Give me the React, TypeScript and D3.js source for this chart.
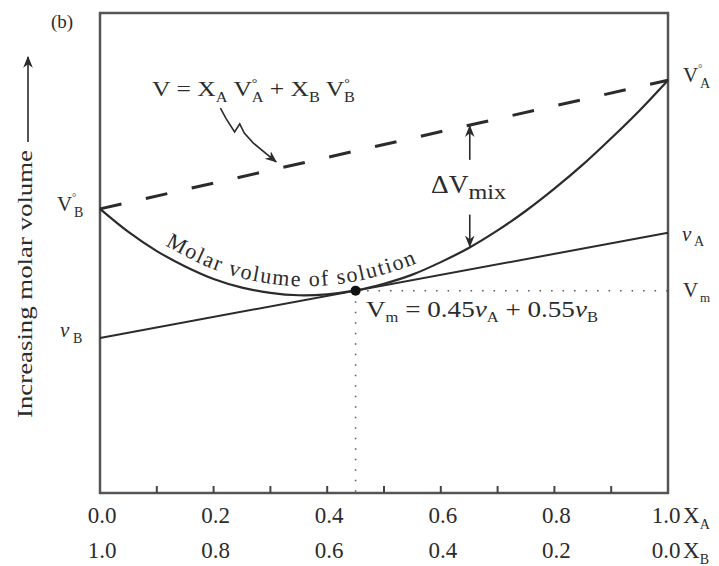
import React from "react";
import * as d3 from "d3";

// mole fraction of A along the bottom axis
const xaLabels = ["0.0", "0.2", "0.4", "0.6", "0.8", "1.0"];
const xbLabels = ["1.0", "0.8", "0.6", "0.4", "0.2", "0.0"];
const labelTicks = [0, 0.2, 0.4, 0.6, 0.8, 1.0];
const minorTicks = [0.1, 0.2, 0.3, 0.4, 0.5, 0.6, 0.7, 0.8, 0.9];

// molar volume of solution (arbitrary units)
const molarX = [0, 0.05, 0.1, 0.15, 0.2, 0.25, 0.3, 0.35, 0.4, 0.45, 0.5, 0.55, 0.6, 0.65, 0.7, 0.75, 0.8, 0.85, 0.9, 0.95, 1.0];
const molarV = [5.92, 5.44, 5.04, 4.72, 4.46, 4.28, 4.17, 4.12, 4.14, 4.22, 4.36, 4.55, 4.81, 5.11, 5.47, 5.88, 6.34, 6.84, 7.39, 7.97, 8.6];

// ideal mixing line (pure molar volumes) and tangent line (partial molar volumes)
const endX = [0, 1];
const idealV = [5.92, 8.6];
const partialV = [3.23, 5.42];

const xm = 0.45;
const vm = 4.216;
const mixX = 0.651;

const W = 719;
const H = 566;
const FONT = "'Liberation Serif', 'Times New Roman', serif";
const INK = "#2b2b2b";

export default function App() {
  const x = d3.scaleLinear().domain([0, 1]).range([100, 668]);
  const y = d3.scaleLinear().domain([0, 10]).range([493, 13]);

  const line = d3
    .line<[number, number]>()
    .x((d) => x(d[0]))
    .y((d) => y(d[1]));
  const smooth = d3
    .line<[number, number]>()
    .x((d) => x(d[0]))
    .y((d) => y(d[1]))
    .curve(d3.curveCatmullRom);

  const molarPts = molarX.map((v, i) => [v, molarV[i]] as [number, number]);
  const idealPts = endX.map((v, i) => [v, idealV[i]] as [number, number]);
  const partialPts = endX.map((v, i) => [v, partialV[i]] as [number, number]);

  // path for the curve label, shifted off the curve along its normal
  const px = molarPts.map((d) => [x(d[0]), y(d[1])]);
  const off = px
    .map((p, i) => {
      const a = px[Math.max(0, i - 1)];
      const b = px[Math.min(px.length - 1, i + 1)];
      const dx = b[0] - a[0];
      const dy = b[1] - a[1];
      const len = Math.hypot(dx, dy);
      return [p[0] + (dy / len) * 9, p[1] - (dx / len) * 9] as [number, number];
    })
    .filter((_, i) => molarX[i] >= 0.1 && molarX[i] <= 0.7);
  const labelPath = d3.line().curve(d3.curveCatmullRom)(off) || "";

  const vmY = y(vm);
  const dashY = (t: number) => idealV[0] + (idealV[1] - idealV[0]) * t;
  const molarAt = (t: number) => {
    const i = d3.bisectLeft(molarX, t);
    const t0 = molarX[i - 1], t1 = molarX[i];
    return molarV[i - 1] + ((molarV[i] - molarV[i - 1]) * (t - t0)) / (t1 - t0);
  };

  // squiggle pointer from the equation to the dashed line (data space)
  const squiggle: [number, number][] = [
    [0.212, 8.02], [0.222, 7.8], [0.237, 7.52], [0.246, 7.69], [0.254, 7.5], [0.27, 7.29], [0.31, 6.9],
  ];

  return (
    <svg width={W} height={H} style={{ position: "absolute", left: 0, top: 0, background: "#fff" }} fontFamily={FONT}>
      <defs>
        <marker id="ah2" viewBox="0 0 10 10" refX="9" refY="5" markerWidth="12" markerHeight="12" orient="auto" markerUnits="userSpaceOnUse">
          <path d="M0,1 L10,5 L0,9 L3,5 z" fill={INK} />
        </marker>
      </defs>
      <rect width={W} height={H} fill="#fff" />

      {/* frame */}
      <rect x={x(0)} y={y(10)} width={x(1) - x(0)} height={y(0) - y(10)} fill="none" stroke="#555" strokeWidth={2.5} />
      {minorTicks.map((t) => (
        <line key={t} x1={x(t)} x2={x(t)} y1={y(0)} y2={y(0) - 7} stroke="#444" strokeWidth={2} />
      ))}

      {/* dotted guides at Vm */}
      <line x1={x(xm)} x2={x(1)} y1={vmY} y2={vmY} stroke="#555" strokeWidth={1.5} strokeDasharray="1.5 10" />
      <line x1={x(xm)} x2={x(xm)} y1={vmY} y2={y(0)} stroke="#555" strokeWidth={1.5} strokeDasharray="1.5 9" />

      {/* lines */}
      <path d={line(idealPts) || ""} fill="none" stroke={INK} strokeWidth={3} strokeDasharray="22 25" />
      <path d={line(partialPts) || ""} fill="none" stroke={INK} strokeWidth={2} />
      <path d={smooth(molarPts) || ""} fill="none" stroke={INK} strokeWidth={2.2} />
      <circle cx={x(xm)} cy={vmY} r={5} fill="#111" />

      {/* curve label */}
      <path id="lp" d={labelPath} fill="none" stroke="none" />
      <text fontSize={22} fill={INK} letterSpacing={1.6}>
        <textPath href="#lp" startOffset={4}>Molar volume of solution</textPath>
      </text>

      {/* ΔVmix arrows */}
      <line x1={x(mixX)} x2={x(mixX)} y1={y(6.94)} y2={y(dashY(mixX)) + 1} stroke={INK} strokeWidth={1.6} markerEnd="url(#ah2)" />
      <line x1={x(mixX)} x2={x(mixX)} y1={y(5.8)} y2={y(molarAt(mixX)) - 1} stroke={INK} strokeWidth={1.6} markerEnd="url(#ah2)" />
      <text x={431} y={193} fontSize={25} fill={INK} textLength={75} lengthAdjust="spacingAndGlyphs">
        ΔV<tspan fontSize={22} dy={6}>mix</tspan>
      </text>

      {/* squiggle pointer */}
      <path d={line(squiggle) || ""} fill="none" stroke={INK} strokeWidth={1.6} markerEnd="url(#ah2)" />

      {/* equation at top */}
      <text x={152} y={96} fontSize={22} fill={INK} textLength={203} lengthAdjust="spacingAndGlyphs">
        V = X<tspan fontSize={14} dy={6}>A</tspan>
        <tspan dy={-6}>{" V"}</tspan>
        <tspan fontSize={12} dy={-9}>°</tspan>
        <tspan fontSize={14} dx={-5} dy={15}>A</tspan>
        <tspan dy={-6}>{" + X"}</tspan>
        <tspan fontSize={14} dy={6}>B</tspan>
        <tspan dy={-6}>{" V"}</tspan>
        <tspan fontSize={12} dy={-9}>°</tspan>
        <tspan fontSize={14} dx={-5} dy={15}>B</tspan>
      </text>

      {/* Vm equation */}
      <text x={366} y={317} fontSize={23} fill={INK} textLength={232} lengthAdjust="spacingAndGlyphs">
        V<tspan fontSize={14} dy={5}>m</tspan>
        <tspan dy={-5}>{" = 0.45"}</tspan>
        <tspan fontStyle="italic">ν</tspan>
        <tspan fontSize={14} dy={5}>A</tspan>
        <tspan dy={-5}>{" + 0.55"}</tspan>
        <tspan fontStyle="italic">ν</tspan>
        <tspan fontSize={14} dy={5}>B</tspan>
      </text>

      {/* left labels */}
      <text x={57} y={y(idealV[0]) + 2} fontSize={21} fill={INK}>V</text>
      <text x={72} y={y(idealV[0]) - 8} fontSize={11} fill={INK}>°</text>
      <text x={74} y={y(idealV[0]) + 8} fontSize={14} fill={INK}>B</text>
      <text x={60} y={y(partialV[0]) - 1} fontSize={21} fill={INK} fontStyle="italic">ν</text>
      <text x={73} y={y(partialV[0]) + 5} fontSize={14} fill={INK}>B</text>

      {/* right labels */}
      <text x={683} y={y(idealV[1]) + 2} fontSize={21} fill={INK}>V</text>
      <text x={698} y={y(idealV[1]) - 8} fontSize={11} fill={INK}>°</text>
      <text x={700} y={y(idealV[1]) + 8} fontSize={14} fill={INK}>A</text>
      <text x={682} y={y(partialV[1]) + 8} fontSize={21} fill={INK} fontStyle="italic">ν</text>
      <text x={694} y={y(partialV[1]) + 13} fontSize={14} fill={INK}>A</text>
      <text x={683} y={vmY + 6} fontSize={21} fill={INK}>V</text>
      <text x={700} y={vmY + 11} fontSize={13} fill={INK}>m</text>

      {/* (b) */}
      <text x={51} y={28} fontSize={19} fill={INK}>(b)</text>

      {/* y axis label with arrow */}
      <line x1={28} x2={28} y1={142} y2={57} stroke={INK} strokeWidth={1.6} markerEnd="url(#ah2)" />
      <text transform="translate(32,418) rotate(-90)" fontSize={22} fill={INK} textLength={268} lengthAdjust="spacingAndGlyphs">
        Increasing molar volume
      </text>

      {/* bottom tick labels */}
      {labelTicks.map((t, i) => (
        <g key={t}>
          <text x={t === 1 ? x(t) - 2 : x(t) + 2} y={523} fontSize={23} textAnchor="middle" fill={INK}>{xaLabels[i]}</text>
          <text x={t === 1 ? x(t) - 2 : x(t) + 2} y={558} fontSize={23} textAnchor="middle" fill={INK}>{xbLabels[i]}</text>
        </g>
      ))}
      <text x={683} y={523} fontSize={23} fill={INK}>X<tspan fontSize={14} dy={6}>A</tspan></text>
      <text x={683} y={558} fontSize={23} fill={INK}>X<tspan fontSize={14} dy={6}>B</tspan></text>
    </svg>
  );
}
